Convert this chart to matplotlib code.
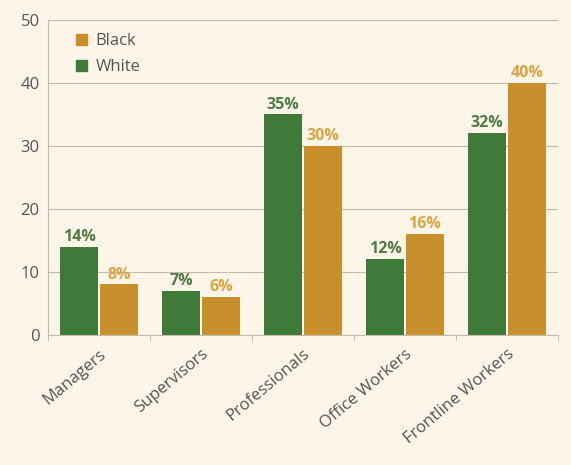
import numpy as np
import matplotlib.pyplot as plt
from matplotlib.patches import Patch

# share of workers by occupation, by race
categories = ["Managers", "Supervisors", "Professionals", "Office Workers", "Frontline Workers"]
white = [14, 7, 35, 12, 32]
black = [8, 6, 30, 16, 40]

green = "#3f7a38"
gold = "#c8902c"
green_txt = "#4e7d48"
gold_txt = "#dba445"
bg = "#fdf5e8"

plt.rcParams['font.family'] = ['Open Sans', 'DejaVu Sans']

fig = plt.figure(figsize=(5.71, 4.65), dpi=100, facecolor=bg)
ax = fig.add_axes([0.084, 0.280, 0.893, 0.677], facecolor=bg)

x = np.arange(len(categories))
w = 0.37
off = 0.195
b1 = ax.bar(x - off, white, w, color=green)
b2 = ax.bar(x + off, black, w, color=gold)

for rect, v in zip(b1, white):
    ax.text(rect.get_x() + rect.get_width() / 2, v + 0.3, f"{v}%", ha="center", va="bottom",
            color=green_txt, fontsize=11.5, fontweight="bold")
for rect, v in zip(b2, black):
    ax.text(rect.get_x() + rect.get_width() / 2, v + 0.3, f"{v}%", ha="center", va="bottom",
            color=gold_txt, fontsize=11.5, fontweight="bold")

ax.set_ylim(0, 50)
ax.set_xlim(-0.5, len(categories) - 0.5)
ax.set_yticks([0, 10, 20, 30, 40, 50])
ax.yaxis.grid(True, color="#c4bba9", linewidth=0.8)
ax.set_axisbelow(True)

ax.set_xticks(x)
ax.set_xticklabels(categories, rotation=40, ha="right", rotation_mode="anchor", fontsize=12, color="#555555")
ax.tick_params(axis="x", length=0, pad=8)
ax.set_xticks(np.arange(-0.5, len(categories)), minor=True)
ax.tick_params(axis="x", which="minor", length=4, color="#c4bba9")
ax.tick_params(axis="y", length=0, labelsize=12, colors="#555555", pad=6)

for s in ["top", "right"]:
    ax.spines[s].set_visible(False)
ax.spines["left"].set_color("#c4bba9")
ax.spines["bottom"].set_color("#c4bba9")

handles = [Patch(color=gold, label="Black"), Patch(color=green, label="White")]
leg = ax.legend(handles=handles, loc="upper left", bbox_to_anchor=(0.025, 1.005), frameon=False,
                fontsize=12, handlelength=0.7, handleheight=0.7, handletextpad=0.5, labelspacing=0.6)
for t in leg.get_texts():
    t.set_color("#555555")

fig.savefig("out.png", dpi=100, facecolor=bg)
